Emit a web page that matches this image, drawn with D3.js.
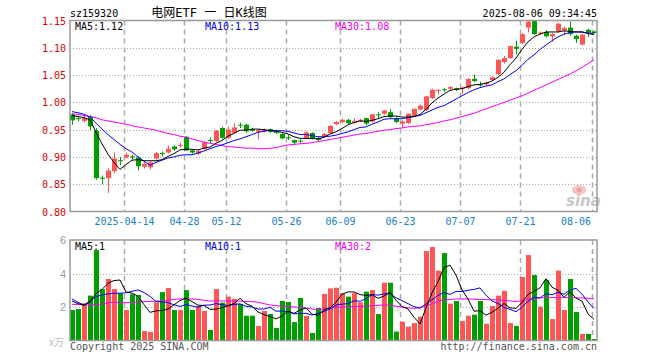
<!DOCTYPE html>
<html><head><meta charset="utf-8">
<script src="https://cdn.jsdelivr.net/npm/d3@7"></script>
<style>body{margin:0;background:#fff}svg{display:block}</style>
</head><body><svg id="c" width="660" height="360"></svg>
<script>
const dates = ["2025-03-31",
"2025-04-01","2025-04-02","2025-04-03","2025-04-07","2025-04-08","2025-04-09","2025-04-10","2025-04-11","2025-04-14","2025-04-15","2025-04-16","2025-04-17","2025-04-18","2025-04-21","2025-04-22","2025-04-23","2025-04-24","2025-04-25","2025-04-28","2025-04-29","2025-04-30",
"2025-05-06","2025-05-07","2025-05-08","2025-05-09","2025-05-12","2025-05-13","2025-05-14","2025-05-15","2025-05-16","2025-05-19","2025-05-20","2025-05-21","2025-05-22","2025-05-23","2025-05-26","2025-05-27","2025-05-28","2025-05-29","2025-05-30",
"2025-06-03","2025-06-04","2025-06-05","2025-06-06","2025-06-09","2025-06-10","2025-06-11","2025-06-12","2025-06-13","2025-06-16","2025-06-17","2025-06-18","2025-06-19","2025-06-20","2025-06-23","2025-06-24","2025-06-25","2025-06-26","2025-06-27","2025-06-30",
"2025-07-01","2025-07-02","2025-07-03","2025-07-04","2025-07-07","2025-07-08","2025-07-09","2025-07-10","2025-07-11","2025-07-14","2025-07-15","2025-07-16","2025-07-17","2025-07-18","2025-07-21","2025-07-22","2025-07-23","2025-07-24","2025-07-25","2025-07-28","2025-07-29","2025-07-30","2025-07-31",
"2025-08-01","2025-08-04","2025-08-05","2025-08-06"];

const open = [0.978,0.971,0.966,0.974,0.948,0.862,0.861,0.874,0.894,0.899,
0.901,0.899,0.882,0.881,0.897,0.907,0.908,0.919,0.921,0.937,
0.912,0.906,0.915,0.931,0.929,0.953,0.935,0.944,0.959,0.959,
0.951,0.946,0.947,0.951,0.948,0.942,0.936,0.931,0.930,0.935,
0.944,0.935,0.938,0.944,0.960,0.964,0.968,0.963,0.966,0.971,
0.965,0.978,0.979,0.982,0.971,0.961,0.962,0.975,0.987,0.986,
1.008,1.022,1.024,1.025,1.026,1.025,1.026,1.043,1.033,1.033,
1.041,1.052,1.074,1.081,1.102,1.109,1.137,1.150,1.126,1.129,
1.121,1.130,1.132,1.137,1.122,1.106,1.133,1.130];
const high = [0.980,0.974,0.975,0.977,0.953,0.866,0.879,0.908,0.900,0.908,
0.904,0.901,0.890,0.892,0.909,0.910,0.921,0.921,0.926,0.938,
0.913,0.914,0.929,0.936,0.949,0.955,0.956,0.962,0.963,0.961,
0.953,0.951,0.952,0.952,0.950,0.944,0.940,0.932,0.932,0.947,
0.945,0.936,0.944,0.958,0.966,0.970,0.970,0.971,0.970,0.972,
0.979,0.982,0.986,0.988,0.973,0.967,0.980,0.989,0.996,1.012,
1.025,1.024,1.026,1.030,1.027,1.029,1.044,1.051,1.038,1.038,
1.048,1.079,1.085,1.104,1.113,1.127,1.149,1.150,1.130,1.132,
1.127,1.146,1.139,1.148,1.124,1.125,1.135,1.131];
const low = [0.959,0.965,0.963,0.949,0.858,0.850,0.834,0.870,0.885,0.897,
0.895,0.875,0.879,0.877,0.895,0.901,0.906,0.911,0.917,0.911,
0.906,0.904,0.913,0.925,0.927,0.933,0.933,0.942,0.953,0.944,
0.946,0.932,0.945,0.944,0.942,0.932,0.931,0.922,0.925,0.933,
0.932,0.929,0.936,0.942,0.958,0.962,0.960,0.961,0.964,0.958,
0.963,0.970,0.977,0.971,0.962,0.953,0.960,0.973,0.985,0.984,
1.006,1.014,1.019,1.023,1.021,1.015,1.024,1.037,1.029,1.031,
1.039,1.050,1.071,1.079,1.088,1.107,1.128,1.124,1.124,1.119,
1.111,1.128,1.124,1.122,1.109,1.104,1.120,1.126];
const close = [0.967,0.970,0.971,0.956,0.861,0.860,0.875,0.897,0.893,0.904,
0.899,0.883,0.887,0.890,0.907,0.906,0.915,0.914,0.922,0.912,
0.908,0.911,0.927,0.930,0.948,0.935,0.950,0.954,0.958,0.947,
0.948,0.949,0.950,0.946,0.944,0.934,0.935,0.926,0.929,0.945,
0.934,0.931,0.942,0.957,0.964,0.968,0.962,0.966,0.968,0.961,
0.978,0.977,0.985,0.973,0.964,0.965,0.979,0.988,0.994,1.011,
1.023,1.023,1.023,1.028,1.023,1.027,1.043,1.039,1.032,1.036,
1.046,1.078,1.081,1.103,1.098,1.125,1.148,1.125,1.128,1.121,
1.125,1.144,1.136,1.125,1.116,1.124,1.128,1.127];

const volume = [1.82,1.88,2.22,2.68,5.40,3.07,3.67,3.07,2.82,1.82,
2.76,2.72,0.57,0.51,2.28,2.89,3.13,1.82,1.82,3.01,
1.82,2.06,1.76,0.63,3.07,2.26,2.62,2.48,2.18,1.48,
1.48,0.87,1.76,1.58,0.75,2.36,2.30,1.10,2.54,1.46,
0.45,1.94,2.78,3.11,3.15,2.82,2.62,2.82,2.28,2.92,
3.01,1.58,3.45,3.45,0.53,1.12,0.83,1.04,1.42,5.34,
5.58,4.17,5.22,2.20,2.36,1.16,1.48,1.54,2.36,1.00,
2.06,2.68,2.96,1.04,0.87,3.79,5.10,3.91,2.02,3.61,
1.28,4.17,1.82,3.67,1.70,0.39,0.39,0.09];

const ma5 = [0.976,0.974,0.972,0.968,0.945,0.924,0.905,0.890,0.877,0.886,
0.894,0.895,0.893,0.893,0.893,0.895,0.901,0.906,0.913,0.914,
0.914,0.913,0.916,0.918,0.925,0.930,0.938,0.943,0.949,0.949,
0.951,0.951,0.950,0.948,0.947,0.945,0.942,0.937,0.934,0.934,
0.934,0.933,0.936,0.942,0.946,0.952,0.959,0.963,0.966,0.965,
0.967,0.970,0.974,0.975,0.975,0.973,0.973,0.974,0.978,0.987,
0.999,1.008,1.015,1.022,1.024,1.025,1.029,1.032,1.033,1.035,
1.039,1.046,1.055,1.069,1.081,1.097,1.111,1.120,1.125,1.129,
1.129,1.129,1.131,1.130,1.129,1.129,1.126,1.124];
const ma10 = [0.983,0.981,0.978,0.973,0.962,0.951,0.941,0.932,0.923,0.915,
0.909,0.900,0.892,0.885,0.890,0.894,0.898,0.900,0.903,0.904,
0.904,0.907,0.911,0.915,0.919,0.922,0.926,0.930,0.933,0.937,
0.941,0.945,0.947,0.949,0.948,0.948,0.947,0.944,0.941,0.941,
0.939,0.937,0.937,0.938,0.940,0.943,0.946,0.950,0.954,0.955,
0.960,0.964,0.969,0.970,0.970,0.970,0.972,0.974,0.976,0.981,
0.986,0.991,0.994,1.000,1.006,1.012,1.018,1.023,1.027,1.030,
1.032,1.038,1.043,1.051,1.058,1.068,1.079,1.087,1.097,1.105,
1.113,1.120,1.125,1.128,1.129,1.129,1.127,1.127];
const ma30 = [0.979,0.978,0.976,0.974,0.972,0.968,0.966,0.964,0.962,0.960,
0.957,0.955,0.953,0.951,0.949,0.946,0.943,0.941,0.938,0.936,
0.933,0.930,0.927,0.925,0.923,0.921,0.919,0.918,0.917,0.916,
0.916,0.915,0.915,0.916,0.917,0.920,0.922,0.923,0.924,0.925,
0.926,0.928,0.930,0.932,0.934,0.936,0.938,0.940,0.942,0.943,
0.945,0.947,0.949,0.950,0.952,0.953,0.955,0.956,0.957,0.959,
0.961,0.963,0.966,0.968,0.971,0.974,0.977,0.980,0.984,0.988,
0.992,0.996,1.000,1.004,1.008,1.012,1.017,1.022,1.027,1.032,
1.037,1.042,1.047,1.052,1.058,1.064,1.071,1.078];

const volMa5 = [2.35,2.20,2.10,2.30,2.80,3.05,3.41,3.58,3.61,2.89,
2.83,2.64,2.14,1.68,1.77,1.79,1.88,2.13,2.39,2.53,
2.32,2.11,2.09,1.86,1.87,1.96,2.07,2.21,2.52,2.20,
2.05,1.70,1.55,1.43,1.29,1.46,1.75,1.62,1.81,1.95,
1.57,1.50,1.83,1.95,2.29,2.76,2.90,2.90,2.74,2.69,
2.73,2.52,2.65,2.88,2.40,2.03,1.88,1.39,0.99,1.95,
2.84,3.51,4.35,4.50,3.91,3.02,2.48,1.75,1.78,1.51,
1.69,1.93,2.21,1.95,1.92,2.27,2.75,2.94,3.14,3.69,
3.18,3.00,2.58,2.91,2.53,2.35,1.59,1.25];
const volMa10 = [2.48,2.28,2.12,2.36,2.62,2.72,2.78,2.82,2.82,2.85,
2.94,3.02,2.86,2.64,2.33,2.31,2.26,2.13,2.03,2.15,
2.06,1.99,2.11,2.12,2.20,2.14,2.09,2.15,2.19,2.04,
2.00,1.88,1.88,1.98,1.75,1.76,1.72,1.59,1.62,1.62,
1.52,1.62,1.73,1.88,2.12,2.17,2.20,2.37,2.34,2.49,
2.75,2.71,2.78,2.81,2.55,2.38,2.20,2.02,1.94,2.18,
2.43,2.69,2.87,2.75,2.93,2.93,3.00,3.05,3.14,2.71,
2.36,2.21,1.98,1.86,1.72,1.98,2.34,2.58,2.54,2.80,
2.73,2.88,2.76,3.02,3.11,2.77,2.30,1.91];
const volMa30 = [2.16,2.15,2.13,2.12,2.15,2.18,2.25,2.28,2.27,2.26,
2.27,2.29,2.32,2.33,2.35,2.36,2.40,2.46,2.48,2.48,
2.48,2.46,2.40,2.36,2.36,2.36,2.36,2.36,2.35,2.33,
2.32,2.28,2.20,2.12,2.08,2.05,2.02,2.00,1.97,1.93,
1.88,1.84,1.88,1.96,1.99,2.00,2.01,2.02,2.03,2.05,
2.07,2.10,2.12,2.10,2.05,2.00,1.95,1.92,1.95,2.05,
2.20,2.35,2.42,2.45,2.48,2.48,2.48,2.46,2.45,2.44,
2.43,2.42,2.40,2.36,2.32,2.38,2.45,2.50,2.55,2.56,
2.56,2.56,2.56,2.56,2.55,2.54,2.52,2.48];

const tickDates = ["2025-04-14","2025-04-28","2025-05-12","2025-05-26","2025-06-09","2025-06-23","2025-07-07","2025-07-21","2025-08-06"];
const tickLabels = ["2025-04-14","04-28","05-12","05-26","06-09","06-23","07-07","07-21","08-06"];
const priceTicks = [0.80,0.85,0.90,0.95,1.00,1.05,1.10,1.15];
const volTicks = [2,4,6];

const code = "sz159320";
const title = "电网ETF 一 日K线图";
const stamp = "2025-08-06 09:34:45";

// layout
const L = 70, R = 597, T = 20.5, B = 211.5, VT = 240, VB = 340.5;
const MONO = "'DejaVu Sans Mono','Liberation Mono',monospace";
const RED = "#ff5555", GREEN = "#009f00";

const svg = d3.select("#c");
const x = d3.scalePoint().domain(dates).range([72, 594]);
const y = d3.scaleLinear().domain([0.80, 1.15]).range([B, T]);
const vy = d3.scaleLinear().domain([0, 6]).range([VB, VT]);
const cx = d => Math.round(x(d));

// horizontal grid
const gridG = svg.append("g").attr("stroke", "#aaa").attr("stroke-width", 1).attr("stroke-dasharray", "1,2");
priceTicks.filter(v => v > 0.801 && v < 1.149).forEach(v => {
  const yy = Math.round(y(v)) + 0.5;
  gridG.append("line").attr("x1", L).attr("x2", R).attr("y1", yy).attr("y2", yy);
});
volTicks.filter(v => v < 6).forEach(v => {
  const yy = Math.round(vy(v)) + 0.5;
  gridG.append("line").attr("x1", L).attr("x2", R).attr("y1", yy).attr("y2", yy);
});
// vertical grid
const vg = svg.append("g").attr("stroke", "#aaa").attr("stroke-width", 1.5).attr("stroke-dasharray", "5,4");
tickDates.forEach(d => {
  const xx = cx(d) - 1.5;
  vg.append("line").attr("x1", xx).attr("x2", xx).attr("y1", T).attr("y2", B);
  vg.append("line").attr("x1", xx).attr("x2", xx).attr("y1", VT).attr("y2", VB);
});

// watermark
const wm = svg.append("g");
wm.append("ellipse").attr("cx", 579).attr("cy", 190).attr("rx", 7).attr("ry", 5).attr("fill", "#f7c4c4");
wm.append("circle").attr("cx", 579).attr("cy", 190).attr("r", 2.5).attr("fill", "#eaa0a0");
wm.append("text").attr("x", 566).attr("y", 206).attr("font-family", "'DejaVu Sans',sans-serif")
  .attr("font-size", 15).attr("font-weight", "bold").attr("font-style", "italic").attr("fill", "#c8c8c8").text("sina");

// candles
const rows = dates.map((d, i) => ({ d, o: open[i], h: high[i], l: low[i], c: close[i], v: volume[i] }));
const col = r => (r.c > r.o ? RED : GREEN);
const cg = svg.append("g");
cg.selectAll("line").data(rows).join("line")
  .attr("x1", r => cx(r.d) + 0.5).attr("x2", r => cx(r.d) + 0.5)
  .attr("y1", r => y(r.h)).attr("y2", r => y(r.l))
  .attr("stroke", col).attr("stroke-width", 1);
cg.selectAll("rect").data(rows).join("rect")
  .attr("x", r => cx(r.d) - 2).attr("width", 5)
  .attr("y", r => y(Math.max(r.o, r.c)))
  .attr("height", r => Math.max(1, Math.abs(y(r.o) - y(r.c))))
  .attr("fill", col);

// volume bars
svg.append("g").selectAll("rect").data(rows).join("rect")
  .attr("x", r => cx(r.d) - 2).attr("width", 5)
  .attr("y", r => vy(r.v)).attr("height", r => VB - vy(r.v))
  .attr("fill", col);

// MA lines
const pl = d3.line().x((_, i) => x(dates[i])).y(v => y(v));
const vl = d3.line().x((_, i) => x(dates[i])).y(v => vy(v));
[[ma30, "#ff00ff"], [ma10, "#0000ff"], [ma5, "#000"]].forEach(([a, c]) =>
  svg.append("path").attr("d", pl(a)).attr("fill", "none").attr("stroke", c).attr("stroke-width", 1));
[[volMa30, "#ff00ff"], [volMa10, "#0000ff"], [volMa5, "#000"]].forEach(([a, c]) =>
  svg.append("path").attr("d", vl(a)).attr("fill", "none").attr("stroke", c).attr("stroke-width", 1));

// borders
const bg = svg.append("g").attr("fill", "none").attr("stroke", "#999").attr("stroke-width", 1.5);
bg.append("rect").attr("x", L).attr("y", T).attr("width", R - L).attr("height", B - T);
bg.append("rect").attr("x", L).attr("y", VT).attr("width", R - L).attr("height", VB - VT);

// texts
const txt = (xx, yy, s, opts = {}) => svg.append("text").attr("x", xx).attr("y", yy)
  .attr("font-family", opts.font || MONO).attr("font-size", opts.size || 10)
  .attr("fill", opts.fill || "#000").attr("text-anchor", opts.anchor || "start").text(s);

txt(70, 16.5, code);
txt(209, 17, title, { size: 12, anchor: "middle", font: "'DejaVu Sans Mono','Noto Sans CJK SC',sans-serif" });
txt(597, 16.5, stamp, { anchor: "end" });

priceTicks.forEach(v => txt(66, y(v) + 4, v.toFixed(2), { anchor: "end", fill: "#e00000" }));
tickDates.forEach((d, i) => {
  const last = i === tickDates.length - 1;
  txt(last ? cx(d) - 3 : cx(d) - 1.5, 224.5, tickLabels[i], { anchor: last ? "end" : "middle", fill: "#1a80d0" });
});

const last = dates.length - 1;
txt(75, 29.5, "MA5:" + ma5[last].toFixed(2));
txt(205, 29.5, "MA10:" + ma10[last].toFixed(2), { fill: "#0000dd" });
txt(335, 29.5, "MA30:" + ma30[last].toFixed(2), { fill: "#ee00ee" });

txt(75, 250, "MA5:" + Math.floor(volMa5[last]));
txt(205, 250, "MA10:" + Math.floor(volMa10[last]), { fill: "#0000dd" });
txt(335, 250, "MA30:" + Math.floor(volMa30[last]), { fill: "#ee00ee" });

volTicks.forEach(v => txt(66, vy(v) + 4, String(v), { anchor: "end", fill: "#999", font: "'Liberation Sans',Arial,sans-serif", size: 11 }));
txt(64, 346, "x万", { anchor: "end", fill: "#bbb", font: "'Liberation Sans','Noto Sans CJK SC',sans-serif", size: 10 });
txt(70, 349.5, "Copyright 2025 SINA.COM", { fill: "#555" });
txt(597, 349.5, "http://finance.sina.com.cn", { anchor: "end", fill: "#555" });
</script></body></html>
